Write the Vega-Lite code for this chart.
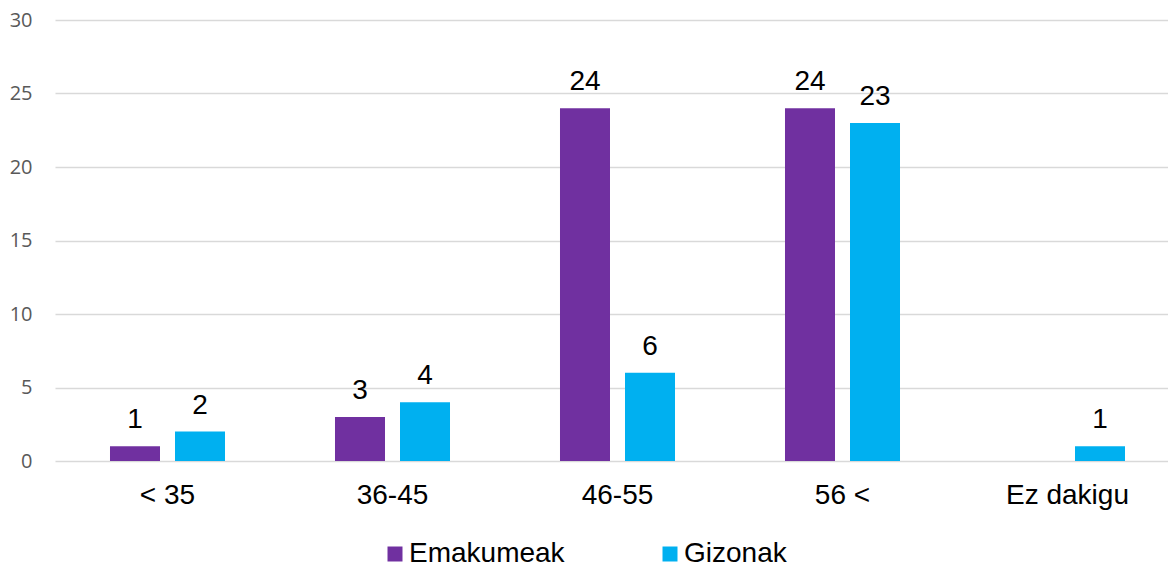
{
  "$schema": "https://vega.github.io/schema/vega-lite/v6.json",
  "autosize": "none",
  "width": 1110,
  "height": 441,
  "padding": {"left": 55, "top": 20, "right": 3, "bottom": 106},
  "background": "white",
  "data": {
    "values": [
      {"cat": "< 35", "group": "Emakumeak", "value": 1},
      {"cat": "< 35", "group": "Gizonak", "value": 2},
      {"cat": "36-45", "group": "Emakumeak", "value": 3},
      {"cat": "36-45", "group": "Gizonak", "value": 4},
      {"cat": "46-55", "group": "Emakumeak", "value": 24},
      {"cat": "46-55", "group": "Gizonak", "value": 6},
      {"cat": "56 <", "group": "Emakumeak", "value": 24},
      {"cat": "56 <", "group": "Gizonak", "value": 23},
      {"cat": "Ez dakigu", "group": "Gizonak", "value": 1}
    ]
  },
  "config": {
    "view": {"stroke": null},
    "font": "Liberation Sans"
  },
  "encoding": {
    "x": {
      "field": "cat",
      "type": "nominal",
      "sort": ["< 35", "36-45", "46-55", "56 <", "Ez dakigu"],
      "scale": {"paddingInner": 0, "paddingOuter": 0, "range": [0, 1125]},
      "axis": {
        "title": null,
        "labelAngle": 0,
        "labelFont": "Liberation Sans",
        "labelFontSize": 28,
        "labelColor": "#000000",
        "labelPadding": 20,
        "ticks": false,
        "domain": false
      }
    },
    "xOffset": {
      "field": "group",
      "type": "nominal",
      "scale": {"domain": ["Emakumeak", "Gizonak"], "paddingInner": 0.2308, "paddingOuter": 0.846}
    },
    "y": {
      "field": "value",
      "type": "quantitative",
      "scale": {"domain": [0, 30], "nice": false},
      "axis": {
        "title": null,
        "values": [0, 5, 10, 15, 20, 25, 30],
        "labelFont": "Open Sans",
        "labelFontSize": 20,
        "labelColor": "#595959",
        "labelPadding": 23,
        "ticks": false,
        "domain": false,
        "gridColor": "#d9d9d9",
        "gridWidth": 1.5
      }
    }
  },
  "layer": [
    {
      "mark": {"type": "bar"},
      "encoding": {
        "color": {
          "field": "group",
          "type": "nominal",
          "scale": {"domain": ["Emakumeak", "Gizonak"], "range": ["#7030A0", "#00B0F0"]},
          "legend": {
            "title": null,
            "orient": "none",
            "direction": "horizontal",
            "legendX": 326,
            "legendY": 520,
            "symbolType": "square",
            "symbolSize": 225,
            "symbolStrokeWidth": 0,
            "symbolOpacity": 1,
            "labelFont": "Liberation Sans",
            "labelFontSize": 28,
            "labelColor": "#000000",
            "labelOffset": 0,
            "columnPadding": 91
          }
        }
      }
    },
    {
      "mark": {"type": "text", "baseline": "alphabetic", "dy": -18, "fontSize": 28, "font": "Liberation Sans", "color": "#000000"},
      "encoding": {"text": {"field": "value", "type": "quantitative"}}
    }
  ]
}
